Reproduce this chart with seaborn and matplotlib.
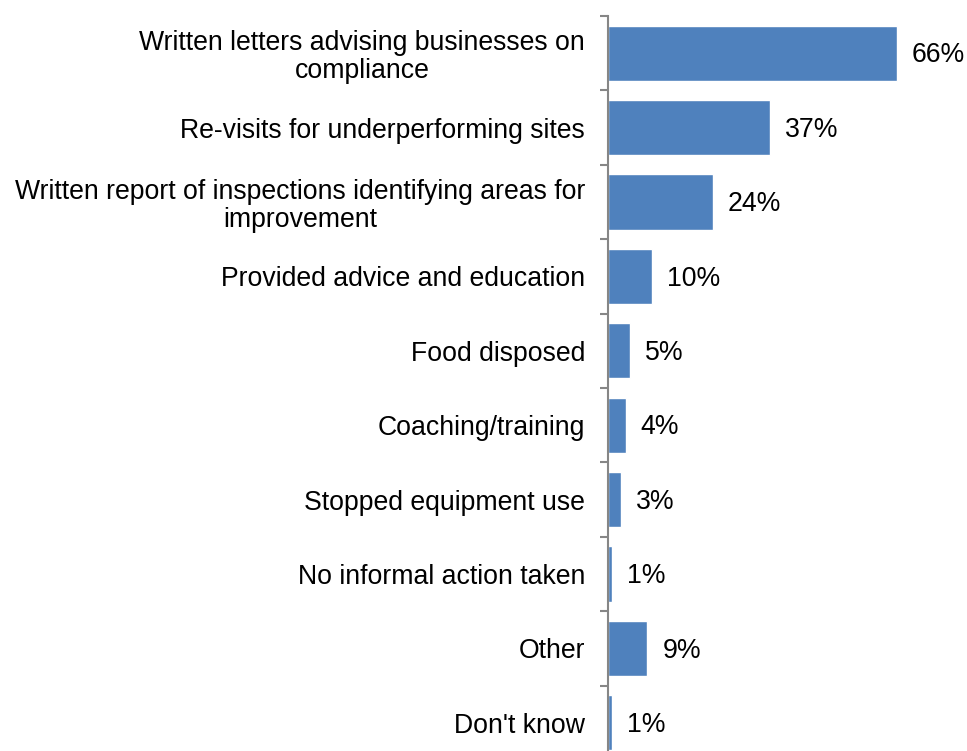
import matplotlib
matplotlib.use("Agg")
import matplotlib.pyplot as plt
import seaborn as sns
import pandas as pd
import numpy as np

categories = [
    "Written letters advising businesses on\ncompliance",
    "Re-visits for underperforming sites",
    "Written report of inspections identifying areas for\nimprovement",
    "Provided advice and education",
    "Food disposed",
    "Coaching/training",
    "Stopped equipment use",
    "No informal action taken",
    "Other",
    "Don't know",
]
values = [66, 37, 24, 10, 5, 4, 3, 1, 9, 1]

sns.set_style("white")
plt.rcParams["font.family"] = ["Liberation Sans", "DejaVu Sans"]

df = pd.DataFrame({"action": categories, "pct": values})

W, H = 967, 751
fig = plt.figure(figsize=(W / 100, H / 100), dpi=100)
# plot area: left edge at the axis line, extends below the bottom of the figure
left_px, top_px, right_px, bottom_px = 608, 16, 608 + 70 * 4.38, 16 + 74.4 * 10
ax = fig.add_axes([left_px / W, 1 - bottom_px / H,
                   (right_px - left_px) / W, (bottom_px - top_px) / H])

sns.barplot(data=df, y="action", x="pct", orient="h", color="#4F81BD",
            saturation=1, width=0.74, ax=ax)

ax.set_xlim(0, 70)
ax.set_ylim(len(categories) - 0.5, -0.5)
ax.set_xlabel("")
ax.set_ylabel("")
ax.set_xticks([])

for s in ["top", "right", "bottom"]:
    ax.spines[s].set_visible(False)
ax.spines["left"].set_color("#868686")
ax.spines["left"].set_linewidth(1.5)

FS = 19.2
ax.set_yticks(range(len(categories)))
ax.set_yticklabels(categories, fontsize=FS, ha="right", multialignment="center",
                   linespacing=1.1)
ax.tick_params(axis="y", which="major", left=False, length=0, pad=16.5, colors="black")
ax.set_yticks(np.arange(-0.5, len(categories), 1), minor=True)
ax.tick_params(axis="y", which="minor", left=True, length=6, width=1.5, color="#868686")

for i, v in enumerate(values):
    ax.text(v + 3.4, i + 0.03, f"{v}%", va="center", ha="left", fontsize=FS, color="black")

fig.savefig("out.png", dpi=100)
